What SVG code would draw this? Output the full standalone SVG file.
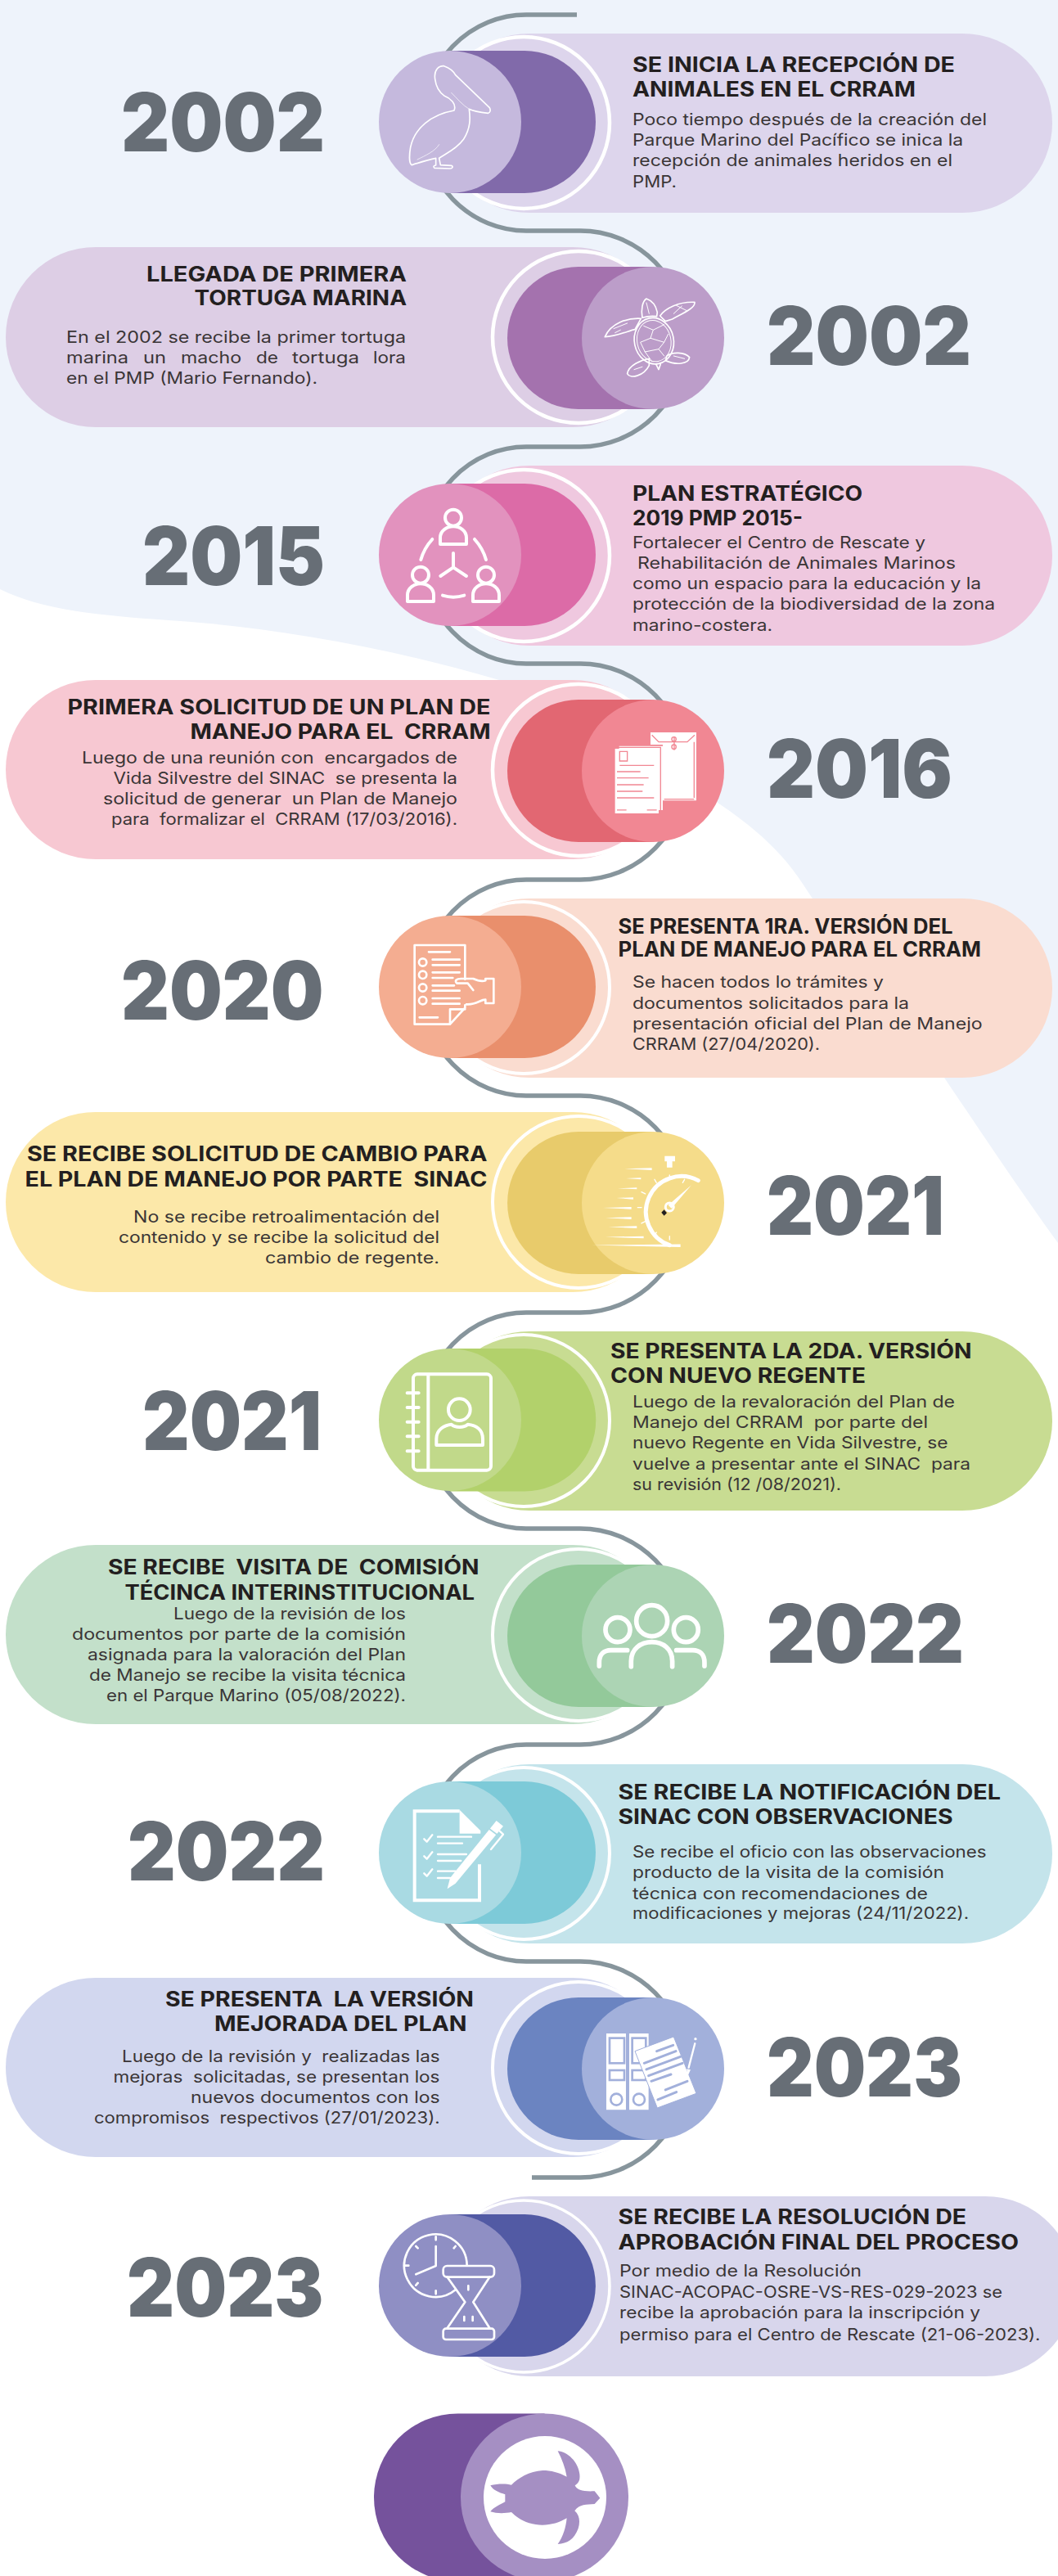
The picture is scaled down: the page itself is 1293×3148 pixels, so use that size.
<svg xmlns="http://www.w3.org/2000/svg" width="1293" height="3148" viewBox="0 0 1293 3148">
<style>
text{white-space:pre}
.y{font:900 99px Inter,"Liberation Sans",sans-serif;fill:#676e76}
.h{font:700 25px Inter,"Liberation Sans",sans-serif;fill:#231f20}
.b{font:400 20px Inter,"Liberation Sans",sans-serif;fill:#3a3536}
.ring{stroke:#fff;stroke-width:4.5}
.ic{fill:none;stroke:#fff;stroke-linecap:round;stroke-linejoin:round}
.w{fill:#fff;stroke:none}
</style>
<rect width="1293" height="3148" fill="#eef3fb"/>
<path d="M0 720C50 745 120 752 206 758C330 766 470 790 610 831C730 890 830 945 880 983C920 1010 955 1040 981 1080C1040 1170 1100 1240 1154 1317C1200 1385 1250 1460 1293 1519V3148H0Z" fill="#fff"/>
<g id="connectors">
<path d="M705 18H643A127 132 0 0 0 643 282H709A130 132 0 0 1 709 546H643A127 132.500 0 0 0 643 811H709A130 132 0 0 1 709 1075H643A127 132 0 0 0 643 1339H709A130 132.500 0 0 1 709 1604H643A127 132 0 0 0 643 1868H709A130 132 0 0 1 709 2132H643A127 132.500 0 0 0 643 2397H709A130 132 0 0 1 709 2661H650" fill="none" stroke="#87959c" stroke-width="5.500"/>
</g>

<g id="node-1">
<rect x="537" y="41" width="749" height="219" rx="110" fill="#ddd5ec"/>
<circle class="ring" cx="640" cy="150" r="105" fill="#ddd5ec"/>
<path d="M550 62H641A87 87 0 0 1 641 236H550Z" fill="#816aaa"/>
<circle cx="550" cy="149" r="87" fill="#c5b9dd"/>
<g transform="translate(450,30) scale(.3333)" class="ic" stroke-width="5">
<path d="M245 200C240 165 260 150 278 152C295 158 310 165 320 185L445 305C450 315 447 322 440 325C410 322 385 318 370 310C375 345 375 380 350 420C325 455 290 470 260 490L265 515L305 517C312 520 310 528 300 528L243 526C238 522 240 516 248 516L248 490C220 495 190 505 160 515C150 510 150 480 155 450C170 380 230 330 315 315C325 290 300 270 280 262C255 245 248 225 245 200Z"/>
<path d="M305 250C325 270 345 295 370 310M180 495C210 480 245 465 260 440" stroke-width="2"/>
</g>
<text class="y" x="148" y="185" textLength="249" lengthAdjust="spacingAndGlyphs">2002</text>
<text class="h" x="773" y="87.500" textLength="394" lengthAdjust="spacingAndGlyphs">SE INICIA LA RECEPCIÓN DE</text>
<text class="h" x="773" y="118" textLength="346" lengthAdjust="spacingAndGlyphs">ANIMALES EN EL CRRAM</text>
<text class="b" x="773" y="153" textLength="433" lengthAdjust="spacingAndGlyphs">Poco tiempo después de la creación del</text>
<text class="b" x="773" y="178" textLength="404" lengthAdjust="spacingAndGlyphs">Parque Marino del Pacífico se inica la</text>
<text class="b" x="773" y="203" textLength="391" lengthAdjust="spacingAndGlyphs">recepción de animales heridos en el</text>
<text class="b" x="773" y="229" textLength="54" lengthAdjust="spacingAndGlyphs">PMP.</text>
</g>

<g id="node-2">
<rect x="7" y="302" width="803" height="220" rx="110" fill="#ddcee5"/>
<circle class="ring" cx="707" cy="412" r="105" fill="#ddcee5"/>
<path d="M798 326H707A87 87 0 0 0 707 500H798Z" fill="#a472ae"/>
<circle cx="798" cy="413" r="87" fill="#bc9dc9"/>
<g transform="translate(450,30) scale(.3333)" class="ic" stroke-width="5">
<path d="M1005 1075C1000 1045 1005 1015 1020 1005C1040 1012 1055 1030 1060 1055L1058 1070C1040 1068 1020 1070 1005 1075Z"/>
<ellipse cx="1048" cy="1160" rx="72" ry="85" transform="rotate(-12 1048 1160)"/>
<ellipse cx="1048" cy="1160" rx="62" ry="76" transform="rotate(-12 1048 1160)" stroke-width="3"/>
<path d="M1070 1068C1090 1040 1140 1015 1197 1018C1200 1040 1150 1060 1115 1080L1090 1088ZM1000 1078C950 1075 890 1095 868 1145C910 1145 960 1120 978 1118ZM1095 1215C1115 1200 1160 1200 1178 1220C1175 1245 1130 1250 1090 1232ZM1030 1225C1000 1230 955 1250 950 1280C960 1300 1010 1290 1030 1250ZM1055 1245L1065 1265L1072 1245"/>
<path d="M1010 1105L1045 1120L1085 1100M1045 1120L1035 1150L1085 1165L1100 1135M1035 1150L998 1165L1015 1200M1085 1165L1065 1190L1015 1200M1065 1190L1085 1215M1015 1200L1040 1235M1150 1032L1120 1060M1130 1030L1170 1050M900 1115L950 1095M905 1130L925 1120M1120 1215L1160 1225M975 1265L1005 1255M1020 1020L1030 1060" stroke-width="3"/>
</g>
<text class="y" x="937" y="446" textLength="250" lengthAdjust="spacingAndGlyphs">2002</text>
<text class="h" x="179" y="343.500" textLength="318" lengthAdjust="spacingAndGlyphs">LLEGADA DE PRIMERA</text>
<text class="h" x="237.500" y="373" textLength="259.500" lengthAdjust="spacingAndGlyphs">TORTUGA MARINA</text>
<text class="b" x="81" y="418.600" textLength="415" lengthAdjust="spacingAndGlyphs">En el 2002 se recibe la primer tortuga</text>
<text class="b" y="444"><tspan x="81" textLength="76" lengthAdjust="spacingAndGlyphs">marina</tspan><tspan x="175" textLength="28" lengthAdjust="spacingAndGlyphs">un</tspan><tspan x="221" textLength="74" lengthAdjust="spacingAndGlyphs">macho</tspan><tspan x="313" textLength="27" lengthAdjust="spacingAndGlyphs">de</tspan><tspan x="357" textLength="82" lengthAdjust="spacingAndGlyphs">tortuga</tspan><tspan x="456" textLength="40" lengthAdjust="spacingAndGlyphs">lora</tspan></text>
<text class="b" x="81" y="469" textLength="307" lengthAdjust="spacingAndGlyphs">en el PMP (Mario Fernando).</text>
</g>

<g id="node-3">
<rect x="537" y="569" width="749" height="220" rx="110" fill="#efc8df"/>
<circle class="ring" cx="640" cy="679" r="105" fill="#efc8df"/>
<path d="M550 591H641A87 87 0 0 1 641 765H550Z" fill="#dc6ba7"/>
<circle cx="550" cy="678" r="87" fill="#e292be"/>
<g transform="translate(450,570) scale(.3333)" class="ic" stroke-width="12">
<circle cx="312" cy="188" r="30"/><path d="M264 285V262C264 235 290 220 312 220C335 220 360 235 360 262V285Z"/>
<circle cx="192" cy="398" r="30"/><path d="M144 495V472C144 445 170 430 192 430C215 430 240 445 240 472V495Z"/>
<circle cx="432" cy="398" r="30"/><path d="M384 495V472C384 445 410 430 432 430C455 430 480 445 480 472V495Z"/>
<path d="M235 267Q205 300 193 342M390 267Q420 300 432 342M273 473Q312 485 352 473M312 318V370M312 370L265 402M312 370L360 402"/>
</g>
<text class="y" x="174" y="715" textLength="223" lengthAdjust="spacingAndGlyphs">2015</text>
<text class="h" x="773" y="611.500" textLength="281" lengthAdjust="spacingAndGlyphs">PLAN ESTRATÉGICO</text>
<text class="h" x="773" y="642" textLength="208" lengthAdjust="spacingAndGlyphs">2019 PMP 2015-</text>
<text class="b" x="773" y="670" textLength="358" lengthAdjust="spacingAndGlyphs">Fortalecer el Centro de Rescate y</text>
<text class="b" x="779" y="695" textLength="389" lengthAdjust="spacingAndGlyphs">Rehabilitación de Animales Marinos</text>
<text class="b" x="773" y="720" textLength="426" lengthAdjust="spacingAndGlyphs">como un espacio para la educación y la</text>
<text class="b" x="773" y="745" textLength="443" lengthAdjust="spacingAndGlyphs">protección de la biodiversidad de la zona</text>
<text class="b" x="773" y="771" textLength="171" lengthAdjust="spacingAndGlyphs">marino-costera.</text>
</g>

<g id="node-4">
<rect x="7" y="831" width="803" height="219" rx="110" fill="#f7c8d2"/>
<circle class="ring" cx="707" cy="941" r="105" fill="#f7c8d2"/>
<path d="M798 855H707A87 87 0 0 0 707 1029H798Z" fill="#e26772"/>
<circle cx="798" cy="942" r="87" fill="#f18793"/>
<g transform="translate(450,570) scale(.3333)">
<path class="w" d="M1035 975H1203V1225H1080V1020H1035Z"/>
<path d="M1040 985L1065 1010H1170L1197 985M1122 990V1040M1195 1010V1215M1085 1220H1195" fill="none" stroke="#f18793" stroke-width="4"/>
<circle cx="1121" cy="1000" r="8" fill="none" stroke="#f18793" stroke-width="4"/><circle cx="1121" cy="1028" r="8" fill="none" stroke="#f18793" stroke-width="4"/>
<path class="w" d="M920 1025H1080V1260H920Z"/>
<path d="M918 1030H1072V1262" fill="none" stroke="#f18793" stroke-width="4"/>
<path class="w" d="M905 1035H1065V1272H905Z"/>
<path d="M922 1045H950V1080H922ZM922 1096H1048M912 1119H998M912 1142H1028M912 1167H1010M912 1191H1006M912 1215H1048M912 1260H947M1022 1260H1058" fill="none" stroke="#f18793" stroke-width="4"/>
</g>
<text class="y" x="937" y="975" textLength="227" lengthAdjust="spacingAndGlyphs">2016</text>
<text class="h" x="82.500" y="873" textLength="517" lengthAdjust="spacingAndGlyphs">PRIMERA SOLICITUD DE UN PLAN DE</text>
<text class="h" x="232.500" y="902.500" textLength="367" lengthAdjust="spacingAndGlyphs">MANEJO PARA EL  CRRAM</text>
<text class="b" x="100" y="933" textLength="459" lengthAdjust="spacingAndGlyphs">Luego de una reunión con  encargados de</text>
<text class="b" x="138.500" y="958" textLength="420.500" lengthAdjust="spacingAndGlyphs">Vida Silvestre del SINAC  se presenta la</text>
<text class="b" x="126" y="983" textLength="433" lengthAdjust="spacingAndGlyphs">solicitud de generar  un Plan de Manejo</text>
<text class="b" x="136" y="1008" textLength="423" lengthAdjust="spacingAndGlyphs">para  formalizar el  CRRAM (17/03/2016).</text>
</g>

<g id="node-5">
<rect x="537" y="1098" width="749" height="219" rx="110" fill="#fadcd0"/>
<circle class="ring" cx="640" cy="1207" r="105" fill="#fadcd0" style="stroke-width:4"/>
<path d="M550 1119H641A87 87 0 0 1 641 1293H550Z" fill="#e98f6c"/>
<circle cx="550" cy="1206" r="87" fill="#f4ad91"/>
<g transform="translate(450,1100) scale(.3333)" class="ic" stroke-width="8">
<path d="M300 455H170V165H355V290M355 385V395L300 455V400H355"/>
<circle cx="200" cy="228" r="14"/><circle cx="200" cy="274" r="14"/><circle cx="200" cy="321" r="14"/><circle cx="200" cy="368" r="14"/>
<path d="M222 190H300M236 218H335M236 238H335M236 265H335M236 285H310M236 313H315M236 332H335M236 360H335M236 380H335M188 430H255"/>
<path d="M345 305H325C315 295 325 288 340 288H385C400 295 415 300 430 295V288H460V378H430V365C410 365 395 385 360 382M345 305H365L385 330"/>
</g>
<text class="y" x="148" y="1246" textLength="247.500" lengthAdjust="spacingAndGlyphs">2020</text>
<text class="h" x="755.500" y="1141" textLength="409" lengthAdjust="spacingAndGlyphs">SE PRESENTA 1RA. VERSIÓN DEL</text>
<text class="h" x="755.500" y="1168.600" textLength="443.500" lengthAdjust="spacingAndGlyphs">PLAN DE MANEJO PARA EL CRRAM</text>
<text class="b" x="773" y="1207" textLength="307" lengthAdjust="spacingAndGlyphs">Se hacen todos lo trámites y</text>
<text class="b" x="773" y="1233" textLength="338" lengthAdjust="spacingAndGlyphs">documentos solicitados para la</text>
<text class="b" x="773" y="1258" textLength="427.600" lengthAdjust="spacingAndGlyphs">presentación oficial del Plan de Manejo</text>
<text class="b" x="773" y="1283" textLength="229" lengthAdjust="spacingAndGlyphs">CRRAM (27/04/2020).</text>
</g>

<g id="node-6">
<rect x="7" y="1359" width="803" height="220" rx="110" fill="#fce8a9"/>
<circle class="ring" cx="707" cy="1469" r="105" fill="#fce8a9" style="stroke-width:4"/>
<path d="M798 1383H707A87 87 0 0 0 707 1557H798Z" fill="#e8cb6b"/>
<circle cx="798" cy="1470" r="87" fill="#f5dc8a"/>
<g transform="translate(450,1100) scale(.3333)">
<path class="ic" d="M1210 1028A130 130 0 1 0 1105 1265" stroke-width="15"/>
<path class="w" d="M1087 938H1125V958H1115V980H1095V958H1087Z"/>
<path class="w" d="M940 985L1040 982V990ZM945 1020L1000 1018V1024ZM915 1057L985 1054V1060ZM910 1092L972 1090V1097ZM860 1128L965 1125V1133ZM870 1165L965 1162V1170ZM880 1198L985 1195V1203ZM870 1235L1010 1232V1240ZM820 1265L1145 1262V1272Z"/>
<path class="ic" stroke-width="4" d="M1105 1008V1022M1160 1024L1153 1036M1050 1024L1057 1036M1002 1070L1016 1077M988 1127H1002M1002 1185L1016 1178M1050 1230L1057 1218M1105 1232V1245"/>
<path class="w" d="M1100 1118L1185 1045L1112 1130Z"/>
<circle cx="1105" cy="1125" r="15" fill="none" stroke="#fff" stroke-width="9"/>
<path d="M1075 1145L1085 1135L1095 1147L1085 1157Z" fill="#231f20"/>
</g>
<text class="y" x="937" y="1509" textLength="217" lengthAdjust="spacingAndGlyphs">2021</text>
<text class="h" x="33" y="1419" textLength="562.400" lengthAdjust="spacingAndGlyphs">SE RECIBE SOLICITUD DE CAMBIO PARA</text>
<text class="h" x="30.500" y="1450" textLength="564.900" lengthAdjust="spacingAndGlyphs">EL PLAN DE MANEJO POR PARTE  SINAC</text>
<text class="b" x="163" y="1493.600" textLength="374" lengthAdjust="spacingAndGlyphs">No se recibe retroalimentación del</text>
<text class="b" x="145" y="1518.600" textLength="392" lengthAdjust="spacingAndGlyphs">contenido y se recibe la solicitud del</text>
<text class="b" x="324" y="1543.600" textLength="213" lengthAdjust="spacingAndGlyphs">cambio de regente.</text>
</g>

<g id="node-7">
<rect x="537" y="1627" width="749" height="219" rx="110" fill="#c8dc92"/>
<circle class="ring" cx="640" cy="1736" r="105" fill="#c8dc92" style="stroke-width:4"/>
<path d="M550 1648H641A87 87 0 0 1 641 1822.500H550Z" fill="#b2d16b"/>
<circle cx="550" cy="1735" r="87" fill="#c1d98a"/>
<g transform="translate(450,1630) scale(.3333)" class="ic" stroke-width="12">
<rect x="165" y="148" width="285" height="352" rx="15"/>
<path d="M220 150V498M143 217H185M143 270H185M143 323H185M143 376H185M143 430H185"/>
<circle cx="334" cy="278" r="40"/>
<path d="M250 408V385C250 350 280 335 305 332C320 345 350 345 365 332C395 335 420 350 420 385V408Z"/>
</g>
<text class="y" x="174" y="1772" textLength="219" lengthAdjust="spacingAndGlyphs">2021</text>
<text class="h" x="746" y="1660" textLength="441.500" lengthAdjust="spacingAndGlyphs">SE PRESENTA LA 2DA. VERSIÓN</text>
<text class="h" x="746" y="1690" textLength="312" lengthAdjust="spacingAndGlyphs">CON NUEVO REGENTE</text>
<text class="b" x="773" y="1720" textLength="394" lengthAdjust="spacingAndGlyphs">Luego de la revaloración del Plan de</text>
<text class="b" x="773" y="1745" textLength="361" lengthAdjust="spacingAndGlyphs">Manejo del CRRAM  por parte del</text>
<text class="b" x="773" y="1770" textLength="385.600" lengthAdjust="spacingAndGlyphs">nuevo Regente en Vida Silvestre, se</text>
<text class="b" x="773" y="1796" textLength="413" lengthAdjust="spacingAndGlyphs">vuelve a presentar ante el SINAC  para</text>
<text class="b" x="773" y="1821" textLength="255" lengthAdjust="spacingAndGlyphs">su revisión (12 /08/2021).</text>
</g>

<g id="node-8">
<rect x="7" y="1888" width="803" height="219" rx="110" fill="#c3e0ca"/>
<circle class="ring" cx="707" cy="1998" r="105" fill="#c3e0ca" style="stroke-width:4"/>
<path d="M798 1912H707A87 87 0 0 0 707 2086H798Z" fill="#93c99a"/>
<circle cx="798" cy="1999" r="87" fill="#acd4b4"/>
<g transform="translate(450,1630) scale(.3333)" class="ic" stroke-width="17">
<circle cx="1040" cy="1052" r="57"/><circle cx="915" cy="1085" r="45"/><circle cx="1165" cy="1085" r="45"/>
<path d="M964 1220V1200C964 1155 1000 1130 1040 1130C1080 1130 1115 1155 1115 1200V1220M847 1218V1205C847 1175 865 1160 890 1160H950M1233 1218V1205C1233 1175 1215 1160 1190 1160H1130"/>
</g>
<text class="y" x="937" y="2032" textLength="241" lengthAdjust="spacingAndGlyphs">2022</text>
<text class="h" x="132" y="1924" textLength="453.500" lengthAdjust="spacingAndGlyphs">SE RECIBE  VISITA DE  COMISIÓN</text>
<text class="h" x="152.500" y="1955" textLength="427.500" lengthAdjust="spacingAndGlyphs">TÉCINCA INTERINSTITUCIONAL</text>
<text class="b" x="212" y="1979" textLength="284" lengthAdjust="spacingAndGlyphs">Luego de la revisión de los</text>
<text class="b" x="88" y="2004" textLength="408" lengthAdjust="spacingAndGlyphs">documentos por parte de la comisión</text>
<text class="b" x="107" y="2029" textLength="389" lengthAdjust="spacingAndGlyphs">asignada para la valoración del Plan</text>
<text class="b" x="109" y="2054" textLength="387" lengthAdjust="spacingAndGlyphs">de Manejo se recibe la visita técnica</text>
<text class="b" x="130" y="2079" textLength="366" lengthAdjust="spacingAndGlyphs">en el Parque Marino (05/08/2022).</text>
</g>

<g id="node-9">
<rect x="537" y="2156" width="749" height="219" rx="110" fill="#c4e4eb"/>
<circle class="ring" cx="640" cy="2265" r="105" fill="#c4e4eb" style="stroke-width:4"/>
<path d="M550 2177H641A87 87 0 0 1 641 2351H550Z" fill="#7dcad8"/>
<circle cx="550" cy="2264" r="87" fill="#a9dae3"/>
<g transform="translate(450,2160) scale(.3333)">
<path class="ic" stroke-width="12" style="stroke-linecap:butt;stroke-linejoin:miter" d="M335 160H170V487H408V355"/>
<path class="w" d="M335 155L412 232V242H335Z"/>
<path class="ic" stroke-width="7" d="M205 262L215 272L235 247M205 325L215 335L235 310M205 388L215 398L235 373M255 254H378M255 278H345M255 318H360M255 342H340M255 380H320M255 405H300"/>
<path class="w" d="M470 195L495 215L320 425L290 445L300 405Z"/>
<path d="M440 222L472 246" stroke="#a9dae3" stroke-width="5"/>
<path class="ic" stroke-width="7" d="M450 300L495 245L482 233"/>
</g>
<text class="y" x="156" y="2298" textLength="241" lengthAdjust="spacingAndGlyphs">2022</text>
<text class="h" x="755.500" y="2199" textLength="467.500" lengthAdjust="spacingAndGlyphs">SE RECIBE LA NOTIFICACIÓN DEL</text>
<text class="h" x="755.500" y="2229" textLength="409" lengthAdjust="spacingAndGlyphs">SINAC CON OBSERVACIONES</text>
<text class="b" x="773" y="2270" textLength="432.600" lengthAdjust="spacingAndGlyphs">Se recibe el oficio con las observaciones</text>
<text class="b" x="773" y="2295" textLength="381" lengthAdjust="spacingAndGlyphs">producto de la visita de la comisión</text>
<text class="b" x="773" y="2321" textLength="361" lengthAdjust="spacingAndGlyphs">técnica con recomendaciones de</text>
<text class="b" x="773" y="2345" textLength="411" lengthAdjust="spacingAndGlyphs">modificaciones y mejoras (24/11/2022).</text>
</g>

<g id="node-10">
<rect x="7" y="2417" width="803" height="219" rx="110" fill="#d2d7ef"/>
<circle class="ring" cx="707" cy="2527" r="105" fill="#d2d7ef" style="stroke-width:4"/>
<path d="M798 2441H707A87 87 0 0 0 707 2615H798Z" fill="#6b84c1"/>
<circle cx="798" cy="2528" r="87" fill="#a2b0db"/>
<g transform="translate(450,2160) scale(.3333)">
<path class="w" d="M873 975H945V1255H873ZM957 975H1028V1255H957Z"/>
<g fill="none" stroke="#a2b0db" stroke-width="8"><rect x="885" y="992" width="54" height="92"/><rect x="885" y="1110" width="54" height="36"/><circle cx="910" cy="1217" r="21"/><rect x="968" y="992" width="50" height="92"/><rect x="968" y="1110" width="50" height="36"/><circle cx="993" cy="1217" r="21"/></g>
<path d="M978 1040L1120 987L1203 1195L1060 1248Z" fill="#fff" stroke="#a2b0db" stroke-width="3"/>
<path d="M1058 1040L1118 1018M1012 1084L1128 1040M1020 1107L1145 1060M1028 1130L1152 1084M1038 1150L1110 1125M1090 1182L1170 1150M1062 1218L1130 1190" fill="none" stroke="#a2b0db" stroke-width="9" stroke-linecap="round"/>
<path class="ic" stroke-width="7" d="M1198 1012L1175 1100"/><circle class="w" cx="1200" cy="995" r="5"/>
<path class="w" d="M1168 1105L1182 1108L1170 1135Z"/>
</g>
<text class="y" x="937" y="2562" textLength="239" lengthAdjust="spacingAndGlyphs">2023</text>
<text class="h" x="202" y="2452" textLength="377" lengthAdjust="spacingAndGlyphs">SE PRESENTA  LA VERSIÓN</text>
<text class="h" x="262" y="2482" textLength="308.600" lengthAdjust="spacingAndGlyphs">MEJORADA DEL PLAN</text>
<text class="b" x="149" y="2520" textLength="388.600" lengthAdjust="spacingAndGlyphs">Luego de la revisión y  realizadas las</text>
<text class="b" x="138.500" y="2545" textLength="399" lengthAdjust="spacingAndGlyphs">mejoras  solicitadas, se presentan los</text>
<text class="b" x="233" y="2570" textLength="304.600" lengthAdjust="spacingAndGlyphs">nuevos documentos con los</text>
<text class="b" x="115" y="2595" textLength="422.600" lengthAdjust="spacingAndGlyphs">compromisos  respectivos (27/01/2023).</text>
</g>

<g id="node-11">
<rect x="537" y="2684" width="777" height="220" rx="110" fill="#d8d6ec"/>
<circle class="ring" cx="640" cy="2794" r="105" fill="#d8d6ec" style="stroke-width:3.500"/>
<path d="M550 2706H641A87 87 0 0 1 641 2880H550Z" fill="#525aa4"/>
<circle cx="550" cy="2793" r="87" fill="#8f8fc4"/>
<g transform="translate(450,2690) scale(.3333)" class="ic" stroke-width="8">
<path d="M362 235A115 115 0 1 0 320 325"/>
<path d="M248 130V142M248 328V340M134 236H148M175 165L182 172M320 165L314 172M175 308L182 300M248 165V237L175 268"/>
<rect x="275" y="237" width="187" height="41" rx="14"/>
<rect x="275" y="467" width="187" height="40" rx="10"/>
<path d="M290 278L355 370L290 465M445 278L385 370L445 465M367 310V325M352 423V438M383 423V438"/>
</g>
<text class="y" x="155" y="2831" textLength="240.500" lengthAdjust="spacingAndGlyphs">2023</text>
<text class="h" x="755.500" y="2718" textLength="425.500" lengthAdjust="spacingAndGlyphs">SE RECIBE LA RESOLUCIÓN DE</text>
<text class="h" x="755.500" y="2749" textLength="489.500" lengthAdjust="spacingAndGlyphs">APROBACIÓN FINAL DEL PROCESO</text>
<text class="b" x="757" y="2782" textLength="296" lengthAdjust="spacingAndGlyphs">Por medio de la Resolución</text>
<text class="b" x="757" y="2808" textLength="468" lengthAdjust="spacingAndGlyphs">SINAC-ACOPAC-OSRE-VS-RES-029-2023 se</text>
<text class="b" x="757" y="2833" textLength="441" lengthAdjust="spacingAndGlyphs">recibe la aprobación para la inscripción y</text>
<text class="b" x="757" y="2860" textLength="514.500" lengthAdjust="spacingAndGlyphs">permiso para el Centro de Rescate (21-06-2023).</text>
</g>

<g id="node-12">
<path d="M665.500 2949.500H559.500A102.500 102.500 0 0 0 559.500 3154.500H665.500Z" fill="#75529c"/>
<circle cx="665.500" cy="3052" r="102.500" fill="#a58fc3"/>
<circle cx="666" cy="3052" r="75" fill="#fff"/>
<path transform="translate(450,2690) scale(.3333)" fill="#a58fc3" d="M695 916C730 918 770 955 775 1000C778 1025 770 1035 758 1042C765 1060 790 1065 830 1063L850 1088L830 1110C800 1112 775 1110 757 1135C775 1150 778 1175 770 1200C755 1240 730 1255 695 1257C715 1230 725 1195 728 1162C690 1185 640 1195 590 1180C560 1170 540 1155 525 1140C500 1145 470 1145 448 1138C460 1122 485 1112 502 1102L502 1075C480 1068 458 1060 448 1042C475 1035 505 1035 525 1040C550 1015 590 990 640 987C670 987 700 995 728 1010C722 975 710 945 695 916Z"/>
</g>
</svg>
